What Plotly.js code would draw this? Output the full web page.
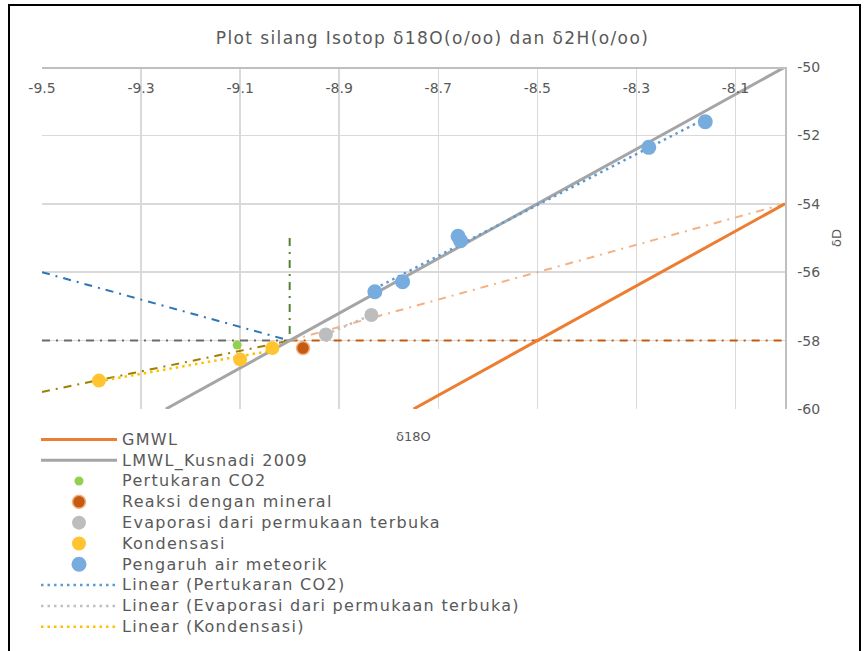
<!DOCTYPE html>
<html>
<head>
<meta charset="utf-8">
<script src="https://cdn.plot.ly/plotly-3.0.1.min.js"></script>
<style>
html,body{margin:0;padding:0;background:#fff;}
#chart{width:865px;height:651px;}
#chart .legendtext{letter-spacing:1.3px;font-size:16px !important;}
#chart .legend .scrollbox{clip-path:none !important;}
#chart .gtitle{letter-spacing:1.4px;}
</style>
</head>
<body>
<div id="chart"></div>
<script>
// ---- data ----
var titleText = 'Plot silang Isotop δ18O(o/oo) dan δ2H(o/oo)';
var xTitle = 'δ18O';
var yTitle = 'δD';

var xTickVals = [-9.5, -9.3, -9.1, -8.9, -8.7, -8.5, -8.3, -8.1];
var xTickText = ['-9.5', '-9.3', '-9.1', '-8.9', '-8.7', '-8.5', '-8.3', '-8.1'];
var yTickVals = [-60, -58, -56, -54, -52, -50];
var yTickText = ['-60', '-58', '-56', '-54', '-52', '-50'];

var gmwlX = [-8.75, -8.0];
var gmwlY = [-60, -54];
var lmwlX = [-9.25, -8.0];
var lmwlY = [-60, -50];

var co2X = [-9.106];
var co2Y = [-58.13];
var mineralX = [-8.973];
var mineralY = [-58.22];
var evapX = [-8.927, -8.835];
var evapY = [-57.82, -57.25];
var kondX = [-9.385, -9.100, -9.035];
var kondY = [-59.17, -58.55, -58.22];
var meteorX = [-8.828, -8.772, -8.660, -8.655, -8.275, -8.161];
var meteorY = [-56.57, -56.28, -54.95, -55.08, -52.35, -51.60];

// trendline end points
var trendCO2X = [-8.828, -8.161];
var trendCO2Y = [-56.48, -51.51];
var trendEvapX = [-8.927, -8.835];
var trendEvapY = [-57.82, -57.25];
var trendKondX = [-9.385, -9.035];
var trendKondY = [-59.19, -58.29];

// guide (dash-dot) lines
var guideGrayX = [-9.5, -9.0];
var guideGrayY = [-58, -58];
var guideBrownX = [-9.0, -8.0];
var guideBrownY = [-58, -58];
var guideBlueX = [-9.5, -9.0];
var guideBlueY = [-56, -58];
var guideOliveX = [-9.5, -9.0];
var guideOliveY = [-59.5, -58];
var guideGreenX = [-9.0, -9.0];
var guideGreenY = [-55, -58];
var guideOrangeX = [-9.0, -8.0];
var guideOrangeY = [-58, -54];

var names = ['GMWL', 'LMWL_Kusnadi 2009', 'Pertukaran CO2', 'Reaksi dengan mineral',
  'Evaporasi dari permukaan terbuka', 'Kondensasi', 'Pengaruh air meteorik',
  'Linear (Pertukaran CO2)', 'Linear (Evaporasi dari permukaan terbuka)', 'Linear (Kondensasi)'];

var DD = '8px,6px,2px,6px';
function guide(x, y, color) {
  return {x: x, y: y, mode: 'lines', type: 'scatter', showlegend: false, hoverinfo: 'skip',
    line: {color: color, width: 2, dash: DD}};
}

var traces = [
  guide(guideGrayX, guideGrayY, '#6b6b6b'),
  guide(guideBrownX, guideBrownY, '#C55A11'),
  guide(guideBlueX, guideBlueY, '#2E75B6'),
  guide(guideOliveX, guideOliveY, '#A07F00'),
  guide(guideGreenX, guideGreenY, '#548235'),
  guide(guideOrangeX, guideOrangeY, '#F4B183'),
  {x: gmwlX, y: gmwlY, name: names[0], legendrank: 1, mode: 'lines', type: 'scatter', line: {color: '#ED7D31', width: 3}},
  {x: lmwlX, y: lmwlY, name: names[1], legendrank: 2, mode: 'lines', type: 'scatter', line: {color: '#A5A5A5', width: 3}},
  {x: trendCO2X, y: trendCO2Y, name: names[7], legendrank: 8, mode: 'lines', type: 'scatter', line: {color: '#5B9BD5', width: 2.5, dash: '2.5px,4px'}},
  {x: trendEvapX, y: trendEvapY, name: names[8], legendrank: 9, mode: 'lines', type: 'scatter', line: {color: '#BFBFBF', width: 2.5, dash: '2.5px,4px'}},
  {x: trendKondX, y: trendKondY, name: names[9], legendrank: 10, mode: 'lines', type: 'scatter', line: {color: '#FFC000', width: 2.5, dash: '2.5px,4px'}},
  {x: co2X, y: co2Y, name: names[2], legendrank: 3, mode: 'markers', type: 'scatter', marker: {color: '#92D050', size: 9}},
  {x: mineralX, y: mineralY, name: names[3], legendrank: 4, mode: 'markers', type: 'scatter', marker: {color: '#C55A11', size: 13, line: {color: '#F4B183', width: 1.5}}},
  {x: evapX, y: evapY, name: names[4], legendrank: 5, mode: 'markers', type: 'scatter', marker: {color: '#BDBDBD', size: 14}},
  {x: kondX, y: kondY, name: names[5], legendrank: 6, mode: 'markers', type: 'scatter', marker: {color: '#FFC430', size: 14}},
  {x: meteorX, y: meteorY, name: names[6], legendrank: 7, mode: 'markers', type: 'scatter', marker: {color: '#78ACDE', size: 15}}
];

var tickFont = {family: 'DejaVu Sans', size: 14, color: '#595959'};
var L = 42, R = 785, T = 67, B = 409, W = 865, H = 651;
var pw = R - L, ph = B - T;
function px2paperX(p) { return (p - L) / pw; }
function px2paperY(p) { return (B - p) / ph; }

var layout = {
  width: W, height: H,
  margin: {l: L, r: W - R, t: T, b: H - B, pad: 0, autoexpand: false},
  paper_bgcolor: '#ffffff', plot_bgcolor: '#ffffff',
  title: {text: titleText, x: 0.5, xref: 'container', xanchor: 'center', y: 1 - 38 / H, yanchor: 'middle', yref: 'container',
    font: {family: 'DejaVu Sans', size: 17, color: '#595959'}},
  showlegend: true,
  legend: {x: 36 / W, xref: 'container', xanchor: 'left', y: 1 - 424 / H, yref: 'container', yanchor: 'top', orientation: 'v',
    font: {family: 'DejaVu Sans', size: 13.7, color: '#595959'}, bgcolor: 'rgba(0,0,0,0)', itemwidth: 76, itemsizing: 'trace',
    tracegroupgap: 0, traceorder: 'normal'},
  xaxis: {range: [-9.5, -8.0], side: 'bottom', anchor: 'free', position: 1,
    tickvals: xTickVals, ticktext: xTickText, ticks: '', ticklabelstandoff: 8,
    showline: true, linecolor: '#BFBFBF', linewidth: 1.5,
    showgrid: true, gridcolor: '#D9D9D9', gridwidth: 1.5, zeroline: false, tickfont: tickFont, fixedrange: true, automargin: false},
  yaxis: {range: [-60, -50], side: 'right', tickvals: yTickVals, ticktext: yTickText, ticks: '',
    showline: true, linecolor: '#BFBFBF', linewidth: 1.5,
    showgrid: true, gridcolor: '#D9D9D9', gridwidth: 1.5, zeroline: false, tickfont: tickFont, ticklabelstandoff: 8,
    title: {text: yTitle, font: {family: 'DejaVu Sans', size: 13, color: '#595959'}, standoff: 12}, fixedrange: true, automargin: false},
  annotations: [
    {text: xTitle, xref: 'paper', yref: 'paper', x: px2paperX(413), y: px2paperY(436), xanchor: 'center', yanchor: 'middle',
      showarrow: false, font: {family: 'DejaVu Sans', size: 13, color: '#595959'}}
  ],
  shapes: [
    {type: 'rect', xref: 'paper', yref: 'paper', x0: px2paperX(9), x1: px2paperX(860), y0: px2paperY(700), y1: px2paperY(5),
      line: {color: '#000000', width: 2}, fillcolor: 'rgba(0,0,0,0)', layer: 'above'}
  ],
  hovermode: false
};

Plotly.newPlot('chart', traces, layout, {displayModeBar: false, staticPlot: true});
</script>
</body>
</html>
